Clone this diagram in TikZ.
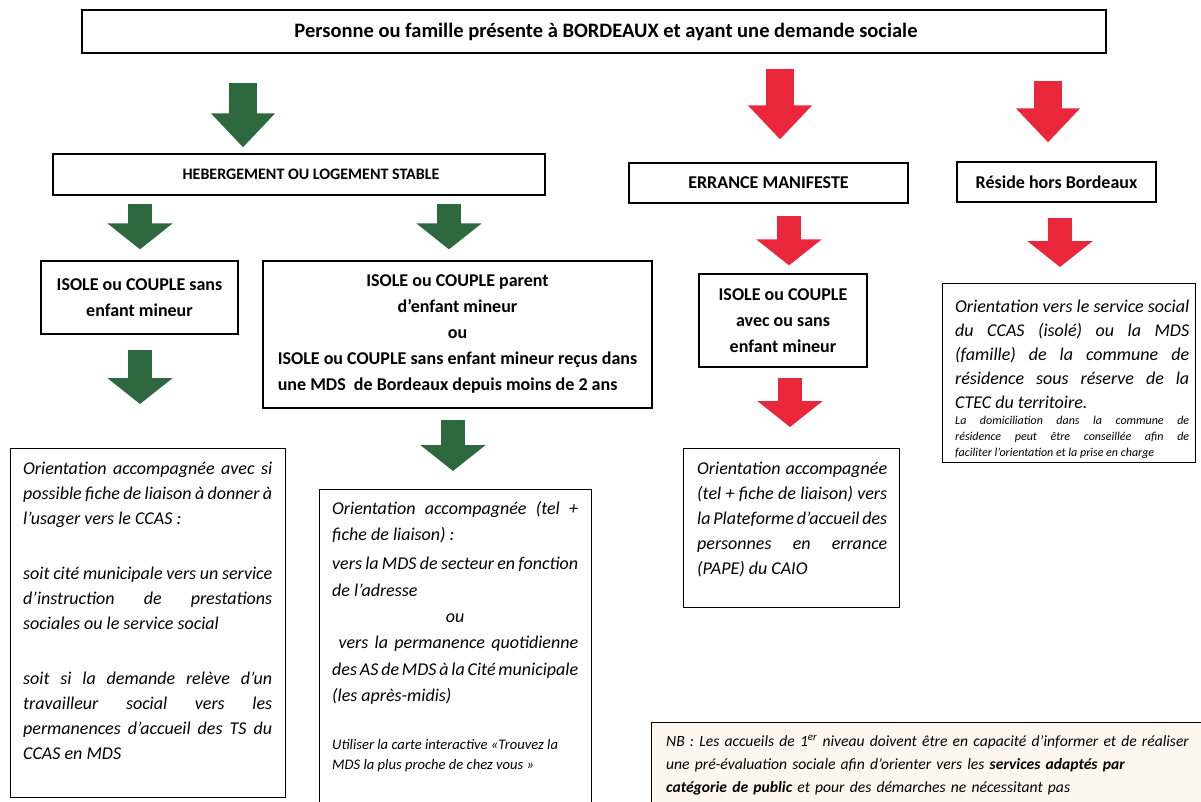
\documentclass[tikz,border=0pt]{standalone}
\usepackage{fontspec}
\setmainfont{Carlito}
\usetikzlibrary{arrows.meta,positioning}
\definecolor{vert}{RGB}{46,104,62}
\definecolor{rouge}{RGB}{234,38,58}
\definecolor{peche}{RGB}{253,247,240}
\tikzset{
  box/.style={draw, line width=1.3pt, inner sep=0pt, align=center,
    font=\bfseries\fontsize{18}{26}\selectfont},
  frame/.style={draw, line width=1.3pt, inner sep=0pt, anchor=north west},
  txt/.style={inner sep=0pt, anchor=north west, align=justify,
    font=\itshape\fontsize{18}{25}\selectfont},
  blk/.style={line width=24pt, -{Triangle[width=64pt,length=26pt]}},
  bigblk/.style={line width=28pt, -{Triangle[width=62pt,length=34pt]}},
}
\hyphenpenalty=10000
\tolerance=9999

\begin{document}
\begin{tikzpicture}[x=1pt,y=-1pt]
  \clip (0,0) rectangle (1201,801);
  \fill[white] (0,0) rectangle (1201,801);

  \node[box, minimum width=1024pt, minimum height=43pt, font=\bfseries\fontsize{20.5}{26}\selectfont] (top) at (594,31.5)
    {\hspace*{24pt}Personne ou famille présente à BORDEAUX et ayant une demande sociale};
  \node[box, minimum width=492pt, minimum height=41pt, font=\bfseries\fontsize{16}{26}\selectfont] (heb) at (299,174.5)
    {\hspace*{24pt}HEBERGEMENT OU LOGEMENT STABLE};
  \node[box, minimum width=279pt, minimum height=40pt] (err) at (768.5,183)
    {ERRANCE MANIFESTE};
  \node[box, minimum width=199pt, minimum height=40pt] (res) at (1056.5,182)
    {Réside hors Bordeaux};
  \node[box, minimum width=197pt, minimum height=73pt] (iso) at (139.5,297.5)
    {ISOLE ou COUPLE sans\\enfant mineur};
  \node[box, minimum width=389pt, minimum height=147pt] (par) at (457.5,334.5)
    {ISOLE ou COUPLE parent\\d’enfant mineur\\ou\\ISOLE ou COUPLE sans enfant mineur reçus dans\\
    \rlap{une MDS\ \ de Bordeaux depuis moins de 2 ans}\phantom{ISOLE ou COUPLE sans enfant mineur reçus dans}};
  \node[box, minimum width=168pt, minimum height=93pt] (errc) at (783,320.5)
    {ISOLE ou COUPLE\\avec ou sans\\enfant mineur};

  \node[frame, minimum width=253pt, minimum height=179pt] (resc) at (942,283) {};
  \node[txt, text width=234pt, font=\itshape\fontsize{18}{24}\selectfont] (resct)
    at ([xshift=13pt,yshift=-17pt]resc.north west)
    {Orientation vers le service social\linebreak du CCAS (isolé) ou la MDS\linebreak (famille) de la commune de\linebreak résidence sous réserve de la\linebreak CTEC du territoire.\par
    {\fontsize{12}{16}\selectfont La domiciliation dans la commune de\linebreak résidence peut être conseillée afin de\linebreak faciliter l’orientation et la prise en charge\par}};

  \node[frame, minimum width=275pt, minimum height=349pt] (orl) at (10,448) {};
  \node[txt, text width=249pt] (orlt) at ([xshift=13pt,yshift=-14pt]orl.north west)
    {Orientation accompagnée avec si\linebreak possible fiche de liaison à donner à\linebreak l’usager vers le CCAS :\par\vskip 30pt
    soit cité municipale vers un service\linebreak d’instruction de prestations\linebreak sociales ou le service social\par\vskip 30pt
    soit si la demande relève d’un\linebreak travailleur social vers les\linebreak permanences d’accueil des TS du\linebreak CCAS en MDS};

  \node[frame, minimum width=272pt, minimum height=400pt] (orm) at (319,489) {};
  \node[txt, text width=246pt, font=\itshape\fontsize{18}{26.3}\selectfont] (ormt)
    at ([xshift=13pt,yshift=-12pt]orm.north west)
    {Orientation accompagnée (tel +\linebreak fiche de liaison) :\par\vskip 3pt
    vers la MDS de secteur en fonction\linebreak de l’adresse\par
    {\centering ou\par}
    \ vers la permanence quotidienne\linebreak des AS de MDS à la Cité municipale\linebreak (les après-midis)\par\vskip 28pt
    {\fontsize{14.6}{20}\selectfont Utiliser la carte interactive «Trouvez la\\MDS la plus proche de chez vous »\par}};

  \node[frame, minimum width=216pt, minimum height=159pt] (orr) at (683,448) {};
  \node[txt, text width=190pt] (orrt) at ([xshift=14pt,yshift=-14pt]orr.north west)
    {Orientation accompagnée\linebreak (tel + fiche de liaison) vers\linebreak la Plateforme d’accueil des\linebreak personnes en errance\linebreak (PAPE) du CAIO};

  \node[frame, fill=peche, minimum width=600pt, minimum height=100pt] (nb) at (651,722) {};
  \node[txt, text width=560pt, align=left, font=\itshape\fontsize{15.6}{23}\selectfont] (nbt)
    at ([xshift=15pt,yshift=-13pt]nb.north west)
    {NB : Les accueils de 1\textsuperscript{er} niveau doivent être en capacité d’informer et de réaliser\\
    une pré-évaluation sociale afin d’orienter vers les \textbf{services adaptés par}\\
    \textbf{catégorie de public} et pour des démarches ne nécessitant pas};

  \draw[bigblk, vert, shorten <=29pt, shorten >=6pt] (top.south -| 243,0) -- (heb.north -| 243,0);
  \draw[bigblk, rouge, shorten <=15pt, shorten >=23pt] (top.south -| 780,0) -- (err.north -| 780,0);
  \draw[bigblk, rouge, shorten <=27pt, shorten >=19pt] (top.south -| 1048,0) -- (res.north -| 1048,0);
  \draw[blk, vert, shorten <=8pt, shorten >=11pt] (heb.south -| 140,0) -- (iso.north -| 140,0);
  \draw[blk, vert, shorten <=8pt, shorten >=11pt] (heb.south -| 449,0) -- (par.north -| 449,0);
  \draw[blk, vert, shorten <=15pt, shorten >=44pt] (iso.south -| 140,0) -- (orl.north -| 140,0);
  \draw[blk, vert, shorten <=11pt, shorten >=18pt] (par.south -| 453,0) -- (orm.north -| 453,0);
  \draw[blk, rouge, shorten <=12pt, shorten >=8pt] (err.south -| 789,0) -- (errc.north -| 789,0);
  \draw[blk, rouge, shorten <=15pt, shorten >=16pt] (res.south -| 1060,0) -- (resc.north -| 1060,0);
  \draw[blk, rouge, shorten <=10pt, shorten >=21pt] (errc.south -| 790,0) -- (orr.north -| 790,0);
\end{tikzpicture}
\end{document}
